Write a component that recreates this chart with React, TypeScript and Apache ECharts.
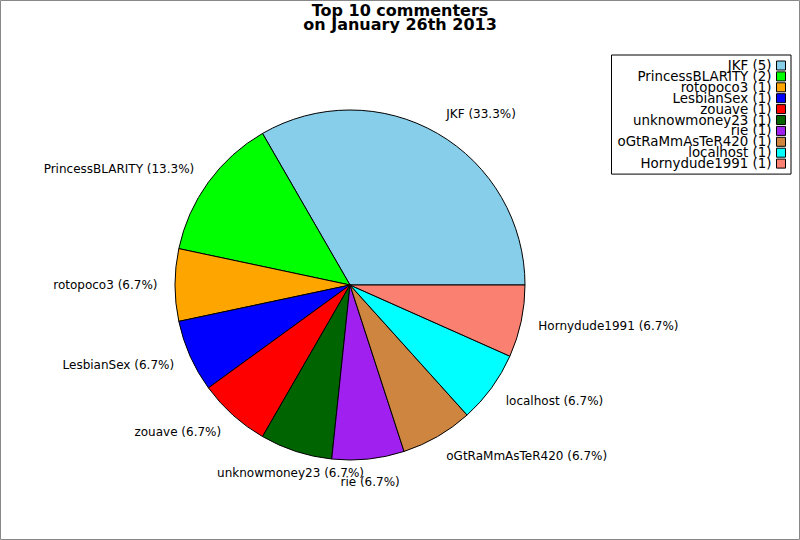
import React, { useEffect, useRef } from "react";
import * as echarts from "echarts";

const names = [
  "JKF",
  "PrincessBLARITY",
  "rotopoco3",
  "LesbianSex",
  "zouave",
  "unknowmoney23",
  "rie",
  "oGtRaMmAsTeR420",
  "localhost",
  "Hornydude1991",
];
const counts = [5, 2, 1, 1, 1, 1, 1, 1, 1, 1];
const colors = [
  "#87CEEB",
  "#00FF00",
  "#FFA500",
  "#0000FF",
  "#FF0000",
  "#006400",
  "#A020F0",
  "#CD853F",
  "#00FFFF",
  "#FA8072",
];
const centeredLabels = ["unknowmoney23", "rie"];
const titleText = "Top 10 commenters\non January 26th 2013";

const FONT = "DejaVu Sans";
const CX = 350;
const CY = 285;

export default function App() {
  const ref = useRef<HTMLDivElement>(null);
  useEffect(() => {
    if (!ref.current) return;
    const chart = echarts.init(ref.current, null, { renderer: "svg" });
    const total = counts.reduce((a, b) => a + b, 0);
    const data = names.map((n, i) => ({
      name: n,
      value: counts[i],
      itemStyle: { color: colors[i] },
    }));
    chart.setOption({
      animation: false,
      backgroundColor: "#fff",
      textStyle: { fontFamily: FONT },
      title: {
        text: titleText,
        left: "center",
        top: -2,
        textStyle: {
          fontFamily: FONT,
          fontSize: 16,
          fontWeight: "bold",
          color: "#000",
          lineHeight: 14,
        },
      },
      legend: {
        orient: "vertical",
        right: 9,
        top: 55,
        align: "right",
        itemWidth: 9,
        itemHeight: 9,
        itemGap: -2.1,
        padding: [4, 5, 4, 6],
        borderColor: "#000",
        borderWidth: 1,
        backgroundColor: "#fff",
        icon: "rect",
        itemStyle: { borderColor: "#000", borderWidth: 1 },
        textStyle: {
          fontFamily: FONT,
          fontSize: 13.4,
          color: "#000",
        },
        formatter: (name: string) => {
          const i = names.indexOf(name);
          return `${name} (${counts[i]})`;
        },
        data: names,
      },
      graphic: [
        {
          type: "rect",
          shape: { x: 0.5, y: 0.5, width: 799, height: 539 },
          style: { fill: "none", stroke: "#888", lineWidth: 1 },
          silent: true,
        },
      ],
      series: [
        {
          type: "pie",
          center: [CX, CY],
          radius: 175,
          startAngle: 0,
          clockwise: false,
          avoidLabelOverlap: false,
          itemStyle: { borderColor: "#000", borderWidth: 1 },
          emphasis: { disabled: true },
          label: {
            show: true,
            position: "outside",
            formatter: (p: any) =>
              `${p.name} (${((p.value / total) * 100).toFixed(1)}%)`,
            fontFamily: FONT,
            fontSize: 12,
            color: "#000",
            distanceToLabelLine: 0,
          },
          labelLine: { show: false, length: 17.5, length2: 0 },
          labelLayout: (params: any) => {
            const n = names[params.dataIndex];
            const lr = params.labelRect;
            const ly = lr.y + lr.height / 2;
            const out: any = { dy: (ly - CY) * 0.028 };
            if (centeredLabels.indexOf(n) >= 0) {
              out.align = "center";
            }
            return out;
          },
          data,
        },
      ],
    });
    return () => chart.dispose();
  }, []);
  return (
    <div
      ref={ref}
      style={{ position: "absolute", left: 0, top: 0, width: 800, height: 540 }}
    />
  );
}
